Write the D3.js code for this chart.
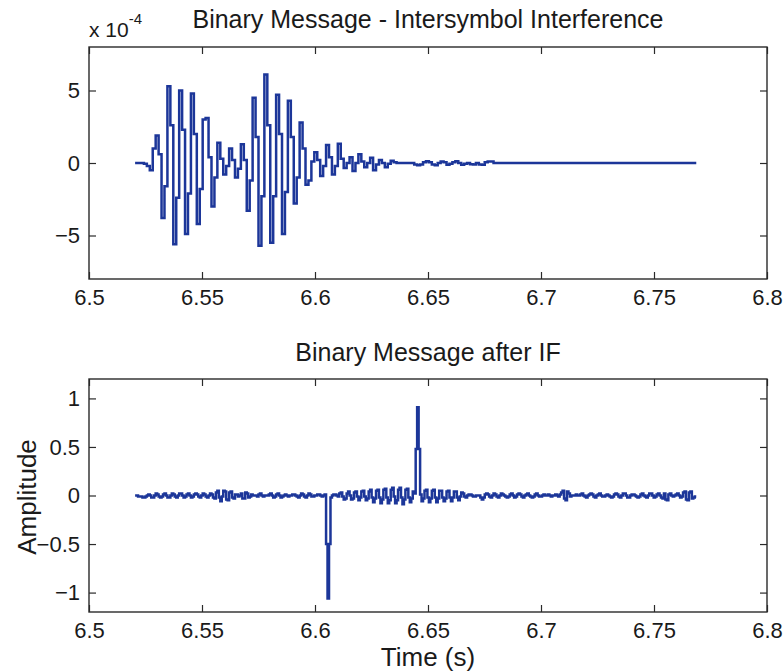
<!DOCTYPE html>
<html>
<head>
<meta charset="utf-8">
<script src="https://cdn.jsdelivr.net/npm/d3@7"></script>
<style>
  body { margin: 0; background: #fff; }
  svg { display: block; }
  text { font-family: "Liberation Sans", Arial, Helvetica, sans-serif; fill: #1a1a1a; }
</style>
</head>
<body>
<svg id="chart" width="783" height="671"></svg>
<script>
// ---- data -------------------------------------------------------------
const T0 = 6.5204;        // time of the first sample (s)
const DT_ISI = 0.0013;    // sample spacing of the received message (s)
const DT_IF = 0.00065;    // sample spacing of the message after IF (s)

// received binary message with intersymbol interference (units of 1e-4)
const isiSignal = [
  0, 0, 0, -0.05, -0.2, -0.5, 1.0, 1.9, 0.6, -3.8,
  -1.6, 5.3, 2.6, -5.6, -2.4, 5.0, 2.3, -4.9, -2.1, 4.8,
  2.0, -4.2, -1.8, 3.0, 3.1, 0.4, -3.0, -1.0, 1.4, 0.3,
  -0.8, -0.2, 1.0, 0.2, -1.0, -0.4, 1.3, 0.2, -3.3, -1.2,
  4.5, 1.8, -5.7, -2.3, 6.1, 2.6, -5.5, -2.3, 4.7, 2.0,
  -4.9, -2.0, 4.3, 1.8, -2.8, -1.0, 2.8, 1.0, -1.5, -1.2,
  0.1, 0.75, 0.2, -0.9, -0.2, 1.24, 0.4, -0.8, -0.2, 1.33,
  0.3, -0.35, 0.0, 0.4, -0.55, 0.0, 0.6, 0.1, -0.3, 0.0,
  0.37, -0.5, -0.1, 0.2, 0.0, -0.3, -0.05, 0.15, 0.05, 0,
  0, 0, 0, 0, 0, -0.1, -0.15, -0.1, 0.05, 0.12,
  0.05, -0.1, -0.15, 0.0, 0.1, 0.05, -0.12, -0.05, 0.05, 0.12,
  0.0, -0.12, -0.05, 0.0, -0.08, -0.1, 0.0, -0.1, -0.12, 0.05,
  0.1, 0.1, 0.0, 0, 0, 0, 0, 0, 0, 0,
  0, 0, 0, 0, 0, 0, 0, 0, 0, 0,
  0, 0, 0, 0, 0, 0, 0, 0, 0, 0,
  0, 0, 0, 0, 0, 0, 0, 0, 0, 0,
  0, 0, 0, 0, 0, 0, 0, 0, 0, 0,
  0, 0, 0, 0, 0, 0, 0, 0, 0, 0,
  0, 0, 0, 0, 0, 0, 0, 0, 0, 0,
  0, 0
];

// message after the IF stage (amplitude)
const ifSignal = [
  0, 0, -0.01, -0.01, -0.01, -0.02, -0.02, -0.01, 0, 0.01,
  0, -0.02, -0.02, 0, 0.02, 0.01, -0.01, -0.02, -0.01, 0.01,
  0.02, 0, -0.02, -0.02, 0, 0.02, 0.01, -0.01, -0.02, 0,
  0.02, 0.02, 0, -0.02, -0.01, 0.01, 0.02, 0, -0.02, -0.01,
  0.01, 0.02, 0.01, -0.01, -0.02, 0, 0.02, 0.01, -0.01, -0.02,
  0, 0.02, 0.01, -0.02, -0.03, 0.03, 0.05, -0.02, -0.06, -0.01,
  0.05, 0.04, -0.04, -0.05, 0.03, 0.04, -0.02, -0.03, 0.01, 0.01,
  -0.01, 0, 0.02, -0.03, -0.03, 0.03, 0.02, -0.02, -0.01, 0.01,
  0, 0, 0, -0.01, 0.01, 0.02, 0, -0.01, 0, 0,
  0, 0.01, 0.02, 0, -0.02, -0.01, 0.01, 0.02, 0, -0.02,
  -0.01, 0, 0.01, 0, -0.01, 0, 0, 0.01, 0.01, 0,
  -0.01, -0.02, 0, 0.02, 0.01, -0.01, -0.02, 0, 0.02, 0.01,
  -0.01, -0.01, 0, 0, 0.01, 0.01, 0, -0.01, 0, 0.01,
  -0.5, -1.06, -0.5,
  -0.02, 0.0, 0.01, 0.01, 0.0, -0.01, 0.02, 0.03, -0.01, -0.04,
  -0.03, 0.02, 0.04, 0.0, -0.04, -0.03, 0.03, 0.04, -0.01, -0.05,
  -0.02, 0.04, 0.05, -0.01, -0.05, -0.03, 0.04, 0.06, -0.02, -0.07,
  -0.03, 0.05, 0.06, -0.02, -0.08, -0.04, 0.06, 0.07, -0.02, -0.08,
  -0.05, 0.06, 0.08, -0.01, -0.08, -0.05, 0.06, 0.08, -0.02, -0.09,
  -0.04, 0.06, 0.07, -0.02, -0.07, -0.03, 0.04, 0.02,
  0.48, 0.91, 0.48,
  0.01, -0.06, -0.03, 0.05, 0.06, -0.02, -0.07, -0.03, 0.05, 0.06,
  -0.02, -0.07, -0.03, 0.05, 0.05, -0.02, -0.06, -0.03, 0.04, 0.05,
  -0.02, -0.06, -0.02, 0.04, 0.04, -0.02, -0.05, -0.01, 0.03, 0.02,
  -0.01, -0.02, 0, 0.01, 0.01, 0, -0.01, -0.01, 0, 0,
  0, -0.02, -0.04, -0.02, 0.01, 0.02, 0.01, -0.01, -0.02, 0,
  0.02, 0.01, -0.01, -0.02, 0, 0.02, 0.01, 0, -0.01, -0.02,
  -0.01, 0.01, 0.02, 0, -0.02, -0.01, 0.01, 0.02, 0.01, -0.01,
  -0.02, 0, 0.01, 0.02, 0, -0.01, -0.02, -0.01, 0.01, 0.02,
  0, -0.01, -0.01, 0, 0.01, 0, 0, 0.01, 0, -0.01,
  0, 0, 0.01, 0, -0.01, 0.01, 0.03, 0.05, -0.03, -0.05,
  0.04, 0.02, -0.01, 0, 0, 0, 0.01, 0, 0, 0.01,
  0.02, 0, -0.01, -0.02, 0, 0.01, 0.02, 0.01, -0.01, -0.02,
  0, 0.01, 0.02, 0, -0.01, -0.01, 0, 0.01, 0, -0.01,
  -0.02, -0.01, 0.01, 0.02, 0.01, -0.01, -0.02, 0, 0.02, 0.02,
  0, -0.02, -0.02, 0, 0.01, 0.01, 0, -0.01, -0.02, -0.01,
  0.01, 0.02, 0, -0.01, -0.02, 0, 0.02, 0.02, 0, -0.02,
  -0.01, 0.01, 0.02, 0, -0.02, -0.03, 0.02, -0.04, -0.05, 0.01,
  0.02, 0, -0.01, 0, 0.01, 0.02, 0, -0.02, -0.01, 0.03,
  0.04, -0.04, -0.05, 0.03, 0.04, -0.03, -0.02, -0.01, -0.01
];

const timeDomain = [6.5, 6.8];
const timeTicks = [6.5, 6.55, 6.6, 6.65, 6.7, 6.75, 6.8];
const timeTickLabels = ["6.5", "6.55", "6.6", "6.65", "6.7", "6.75", "6.8"];
const isiDomain = [-8, 8];
const isiTicks = [-5, 0, 5];
const ifDomain = [-1.2, 1.2];
const ifTicks = [-1, -0.5, 0, 0.5, 1];

const titleTop = "Binary Message - Intersymbol Interference";
const titleBottom = "Binary Message after IF";
const xLabel = "Time (s)";
const yLabel = "Amplitude";

// ---- drawing ----------------------------------------------------------
const svg = d3.select("#chart");
const LINE = "#1c3699";
const AXIS = "#2a2a2a";
const TICK_LEN = 7;

const panels = [
  { top: 47,  bottom: 279, data: isiSignal, dt: DT_ISI, domain: isiDomain, ticks: isiTicks },
  { top: 379, bottom: 612, data: ifSignal,  dt: DT_IF,  domain: ifDomain,  ticks: ifTicks }
];
const left = 89, right = 767;

const x = d3.scaleLinear().domain(timeDomain).range([left, right]);

panels.forEach(p => {
  const y = d3.scaleLinear().domain(p.domain).range([p.bottom, p.top]);
  const g = svg.append("g");

  const fmtX = d => timeTickLabels[timeTicks.indexOf(d)];
  const fmtY = d => d3.format("")(d);

  const styleAxis = sel => {
    sel.select(".domain").remove();
    sel.selectAll(".tick line").attr("stroke", AXIS).attr("stroke-width", 1.2);
    sel.selectAll("text").attr("font-size", 22)
      .attr("font-family", '"Liberation Sans", Arial, sans-serif')
      .attr("fill", "#1a1a1a");
  };

  g.append("g").attr("transform", `translate(0,${p.bottom})`)
    .call(d3.axisBottom(x).tickValues(timeTicks).tickFormat(fmtX)
      .tickSize(-TICK_LEN).tickPadding(10))
    .call(styleAxis);
  g.append("g").attr("transform", `translate(0,${p.top})`)
    .call(d3.axisTop(x).tickValues(timeTicks).tickFormat("").tickSize(-TICK_LEN))
    .call(styleAxis);
  g.append("g").attr("transform", `translate(${left},0)`)
    .call(d3.axisLeft(y).tickValues(p.ticks).tickFormat(fmtY)
      .tickSize(-TICK_LEN).tickPadding(9))
    .call(styleAxis);
  g.append("g").attr("transform", `translate(${right},0)`)
    .call(d3.axisRight(y).tickValues(p.ticks).tickFormat("").tickSize(-TICK_LEN))
    .call(styleAxis);

  g.append("rect")
    .attr("x", left).attr("y", p.top)
    .attr("width", right - left).attr("height", p.bottom - p.top)
    .attr("fill", "none").attr("stroke", AXIS).attr("stroke-width", 1.4);

  // sampled signal drawn as held steps
  const line = d3.line()
    .x((d, i) => x(T0 + i * p.dt))
    .y(d => y(d))
    .curve(d3.curveStepAfter);

  g.append("path")
    .datum(p.data)
    .attr("d", line)
    .attr("fill", "none")
    .attr("stroke", LINE)
    .attr("stroke-width", 2.5)
    .attr("stroke-linejoin", "miter");
});

const mid = (left + right) / 2;

svg.append("text").attr("x", mid).attr("y", 28)
  .attr("text-anchor", "middle").attr("font-size", 25).text(titleTop);
svg.append("text").attr("x", mid).attr("y", 361)
  .attr("text-anchor", "middle").attr("font-size", 25).text(titleBottom);
svg.append("text").attr("x", mid).attr("y", 666)
  .attr("text-anchor", "middle").attr("font-size", 26).text(xLabel);
svg.append("text")
  .attr("transform", `translate(36,497) rotate(-90)`)
  .attr("text-anchor", "middle").attr("font-size", 26).text(yLabel);

// exponent of the upper panel's y axis
const expo = svg.append("text").attr("x", left).attr("y", 37).attr("font-size", 21);
expo.append("tspan").text("x 10");
expo.append("tspan").attr("dy", -13).attr("font-size", 15).text("-4");
</script>
</body>
</html>
